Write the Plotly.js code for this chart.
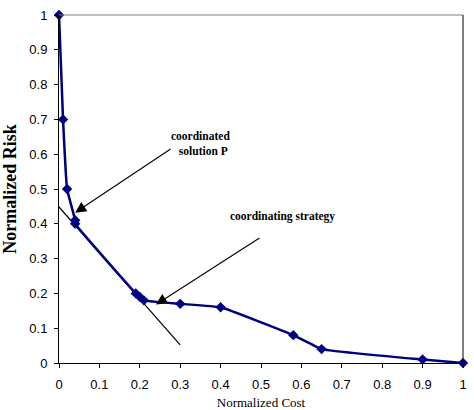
<!DOCTYPE html>
<html><head><meta charset="utf-8">
<script src="https://cdn.plot.ly/plotly-3.0.1.min.js"></script>
<style>body{margin:0;background:#fff}#c{width:474px;height:410px}</style>
</head><body><div id="c"></div>
<script>
const cost = [0, 0.01, 0.02, 0.04, 0.04, 0.19, 0.20, 0.21, 0.30, 0.40, 0.58, 0.65, 0.90, 1.00];
const risk = [1.00, 0.70, 0.50, 0.41, 0.40, 0.20, 0.19, 0.18, 0.17, 0.16, 0.08, 0.04, 0.01, 0.00];
const tangentX = [-0.015, 0.30];
const tangentY = [0.468, 0.052];
const arrowLabels = ["coordinated<br>  solution P", "coordinating strategy"];
const arrowHeadX = [0.04, 0.24];
const arrowHeadY = [0.432, 0.168];
const arrowTailX = [0.28, 0.50];
const arrowTailY = [0.618, 0.362];
const labelX = [0.35, 0.552];
const labelY = [0.63, 0.422];

const traces = [
  {x: tangentX, y: tangentY, mode: 'lines', line: {color: '#000', width: 1.2}, hoverinfo: 'skip', cliponaxis: false},
  {x: cost, y: risk, mode: 'lines+markers', line: {color: '#00007f', width: 2.5, shape: 'spline', smoothing: 0.3},
   marker: {symbol: 'diamond', size: 8, color: '#00007f'}, cliponaxis: false}
];
const ann = [];
for (let i = 0; i < arrowLabels.length; i++) {
  ann.push({x: arrowHeadX[i], y: arrowHeadY[i], ax: arrowTailX[i], ay: arrowTailY[i], axref: 'x', ayref: 'y',
    xref: 'x', yref: 'y', text: '', showarrow: true, arrowhead: 2, arrowsize: 2, arrowwidth: 1.1, arrowcolor: '#000'});
  ann.push({x: labelX[i], y: labelY[i], xref: 'x', yref: 'y', text: arrowLabels[i], showarrow: false,
    font: {family: 'Liberation Serif, Times New Roman, serif', size: 11.5, color: '#000', weight: 'bold'}, align: 'center'});
}
const layout = {
  width: 474, height: 410, margin: {l: 59, r: 11, t: 15, b: 47},
  paper_bgcolor: '#fff', plot_bgcolor: '#fff', showlegend: false,
  font: {family: 'Liberation Sans, Arial, sans-serif', size: 13, color: '#000'},
  xaxis: {range: [0, 1], dtick: 0.1, showgrid: false, zeroline: false, showline: true, linecolor: '#000', linewidth: 1,
    ticks: 'outside', ticklen: 4, tickcolor: '#000', ticklabelstandoff: 5,
    title: {text: 'Normalized Cost', standoff: 21, font: {family: 'Liberation Serif, Times New Roman, serif', size: 13}}},
  yaxis: {range: [0, 1], dtick: 0.1, showgrid: false, zeroline: false, showline: true, linecolor: '#000', linewidth: 1,
    ticks: 'outside', ticklen: 4, tickcolor: '#000', ticklabelstandoff: 4,
    title: {text: 'Normalized Risk', standoff: 12, font: {family: 'Liberation Serif, Times New Roman, serif', size: 18, weight: 'bold'}}},
  shapes: [
    {type: 'line', xref: 'paper', yref: 'paper', x0: 0, x1: 1, y0: 1, y1: 1, line: {color: '#808080', width: 1}},
    {type: 'line', xref: 'paper', yref: 'paper', x0: 1, x1: 1, y0: 0, y1: 1, line: {color: '#000', width: 1}}
  ],
  annotations: ann
};
Plotly.newPlot('c', traces, layout, {displayModeBar: false, staticPlot: true});
</script></body></html>
